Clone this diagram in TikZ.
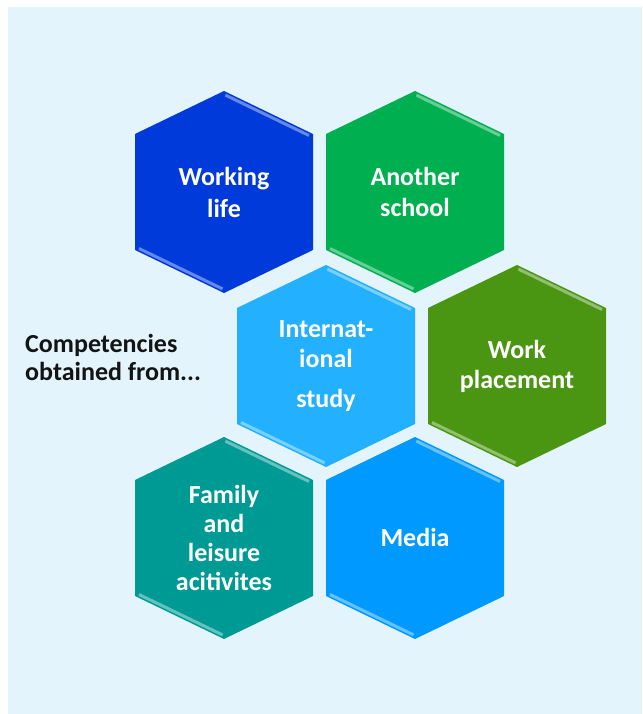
\documentclass[tikz,border=0pt]{standalone}
\usepackage{fontspec}
\setmainfont{Carlito}
\definecolor{bgc}{HTML}{E3F4FC}
\definecolor{cwl}{HTML}{003ADA}
\definecolor{cas}{HTML}{00AF50}
\definecolor{cis}{HTML}{22B0FF}
\definecolor{cwp}{HTML}{4A9512}
\definecolor{cfa}{HTML}{009A94}
\definecolor{cme}{HTML}{0099FF}
\definecolor{ctx}{HTML}{141414}
\newcommand\myhexcell[3]{%
  \fill[#3] (#1,#2-101) -- (#1+89,#2-58) -- (#1+89,#2+58) -- (#1,#2+101)
     -- (#1-89,#2+58) -- (#1-89,#2-58) -- cycle;
  \draw[#3!60!white, line width=3pt, shorten <=3pt, shorten >=3pt]
     ({#1-1.3},{#2-101+2.8}) -- ({#1+89-1.3},{#2-58+2.8});
  \draw[#3!60!white, line width=3pt, shorten <=3pt, shorten >=3pt]
     ({#1-89+1.3},{#2+58-2.8}) -- ({#1+1.3},{#2+101-2.8});
}
\begin{document}
\begin{tikzpicture}[x=1pt,y=-1pt,
  lbl/.style={text=white, font=\fontsize{26}{#1}\selectfont\bfseries, align=center, anchor=base, inner sep=0pt},
  lbl/.default=30]
\useasboundingbox (0,0) rectangle (642,714);
\fill[bgc] (8,7) rectangle (642,714);
\myhexcell{224}{192}{cwl}
\myhexcell{415}{192}{cas}
\myhexcell{326}{366}{cis}
\myhexcell{517}{366}{cwp}
\myhexcell{224}{538}{cfa}
\myhexcell{415}{538}{cme}
\node[lbl=32] (wl) at (224,217) {Working\\life};
\node[lbl=31] (as) at (415,216) {Another\\school};
\node[lbl=30] (is) at (326,407) {Internat-\\ional\\[10pt]study};
\node[lbl=30] (wp) at (517,388) {Work\\placement};
\node[lbl=29] (fa) at (224,590) {Family\\and\\leisure\\acitivites};
\node[lbl] (me) at (415,546) {Media};
\node[text=ctx, font=\fontsize{26}{28}\selectfont\bfseries, align=left, anchor=base west, inner sep=0pt] (cap) at (25,380) {Competencies\\obtained from...};
\end{tikzpicture}
\end{document}
